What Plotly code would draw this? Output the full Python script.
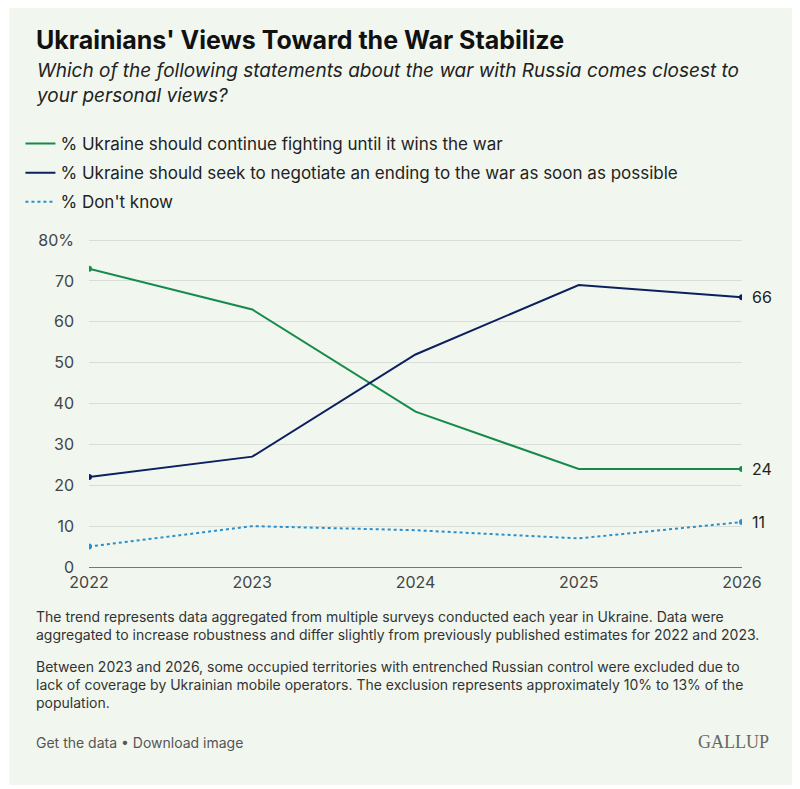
import plotly.graph_objects as go

years = [2022, 2023, 2024, 2025, 2026]
fight = [73, 63, 38, 24, 24]
negotiate = [22, 27, 52, 69, 66]
dont_know = [5, 10, 9, 7, 11]
y_ticks = [0, 10, 20, 30, 40, 50, 60, 70, 80]
y_labels = ["0", "10", "20", "30", "40", "50", "60", "70", "80%"]

GREEN = "#168a4b"
NAVY = "#0c1f5e"
BLUE = "#2a8fcb"
FONT = "Inter"

fig = go.Figure()
series = [
    ("% Ukraine should continue fighting until it wins the war", fight, GREEN, "solid"),
    ("% Ukraine should seek to negotiate an ending to the war as soon as possible", negotiate, NAVY, "solid"),
    ("% Don't know", dont_know, BLUE, "dot"),
]
for i, (name, vals, col, dash) in enumerate(series):
    fig.add_trace(go.Scatter(
        x=years, y=vals, name=name, mode="lines", legendgroup=f"g{i}",
        line=dict(color=col, width=2, dash=dash),
    ))
    fig.add_trace(go.Scatter(
        x=[years[0], years[-1]], y=[vals[0], vals[-1]], mode="markers", legendgroup=f"g{i}",
        marker=dict(color=col, size=6), showlegend=False, hoverinfo="skip",
    ))
    fig.add_annotation(x=years[-1], y=vals[-1], text=str(vals[-1]), showarrow=False,
                       xanchor="left", xshift=8, font=dict(size=16, color="#222", family=FONT))

# panel background
fig.add_shape(type="rect", xref="paper", yref="paper", x0=-0.1218, x1=1.0807,
              y0=-0.6626, y1=1.714, fillcolor="#f1f7ef", line=dict(width=0), layer="below")

LX = -0.0837
fig.add_annotation(xref="paper", yref="paper", x=LX, y=(567 - 40) / 329, xanchor="left", yanchor="middle",
                   text="<b>Ukrainians' Views Toward the War Stabilize</b>", showarrow=False,
                   font=dict(size=25, color="#111", family=FONT))
fig.add_annotation(xref="paper", yref="paper", x=LX, y=(567 - 57) / 329, xanchor="left", yanchor="top",
                   text="<i>Which of the following statements about the war with Russia comes closest to<br>your personal views?</i>",
                   showarrow=False, align="left", font=dict(size=19, color="#222", family=FONT))
fig.add_annotation(xref="paper", yref="paper", x=LX, y=(567 - 606) / 329, xanchor="left", yanchor="top",
                   text="The trend represents data aggregated from multiple surveys conducted each year in Ukraine. Data were<br>aggregated to increase robustness and differ slightly from previously published estimates for 2022 and 2023.",
                   showarrow=False, align="left", font=dict(size=14, color="#333", family=FONT))
fig.add_annotation(xref="paper", yref="paper", x=LX, y=(567 - 656) / 329, xanchor="left", yanchor="top",
                   text="Between 2023 and 2026, some occupied territories with entrenched Russian control were excluded due to<br>lack of coverage by Ukrainian mobile operators. The exclusion represents approximately 10% to 13% of the<br>population.",
                   showarrow=False, align="left", font=dict(size=14, color="#333", family=FONT))
fig.add_annotation(xref="paper", yref="paper", x=LX, y=(567 - 742) / 329, xanchor="left", yanchor="middle",
                   text="Get the data • Download image", showarrow=False,
                   font=dict(size=14, color="#555", family=FONT))
fig.add_annotation(xref="paper", yref="paper", x=1.045, y=(567 - 742) / 329, xanchor="right", yanchor="middle",
                   text="GALLUP", showarrow=False,
                   font=dict(size=18, color="#666", family="Liberation Serif"))

fig.update_layout(
    width=792, height=781,
    margin=dict(l=77, r=58, t=230, b=222),
    paper_bgcolor="white", plot_bgcolor="rgba(0,0,0,0)",
    font=dict(family=FONT, size=15, color="#444"),
    legend=dict(x=-0.105, y=(567 - 126) / 329, xanchor="left", yanchor="top",
                bgcolor="rgba(0,0,0,0)", font=dict(size=17, color="#222", family=FONT),
                itemwidth=30, tracegroupgap=4),
    xaxis=dict(tickvals=years, ticktext=[str(y) for y in years], range=[2022, 2026],
               showgrid=False, zeroline=False, showline=False, ticks="",
               tickfont=dict(size=16, color="#444"), ticklabelstandoff=4),
    yaxis=dict(tickvals=y_ticks, ticktext=y_labels, range=[0, 80.5],
               showgrid=True, gridcolor="#d9ddd8", zeroline=True, zerolinecolor="#777",
               zerolinewidth=1, ticks="", tickfont=dict(size=16, color="#444"), ticklabelstandoff=14),
    showlegend=True,
)
fig.update_xaxes(automargin=False)
fig.update_yaxes(automargin=False)

fig.write_html("out.html")
